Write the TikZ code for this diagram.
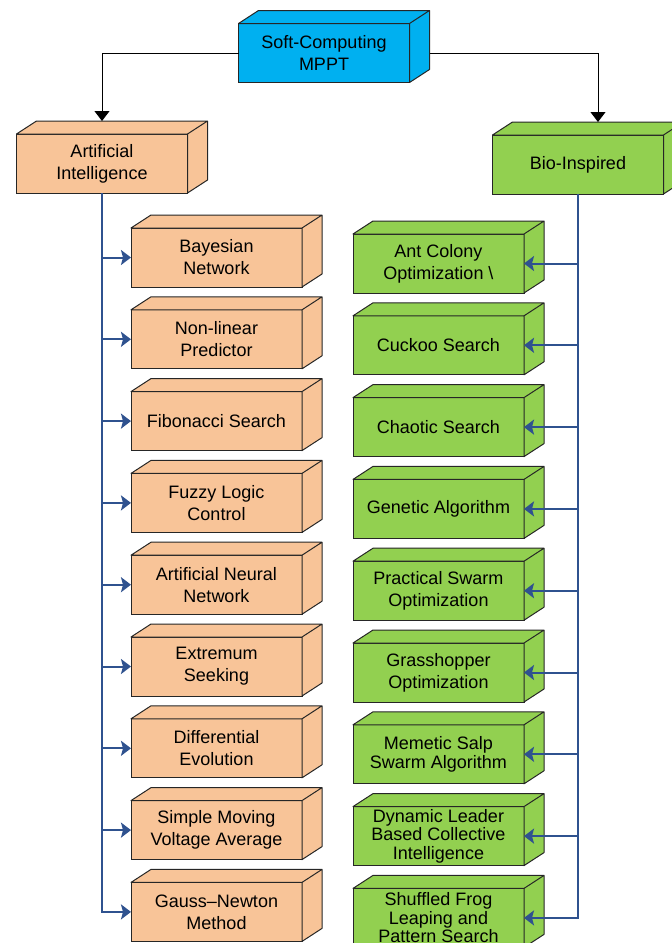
\documentclass[tikz,border=0pt]{standalone}
\usepackage{fontspec}
\setmainfont{Liberation Sans}
\usetikzlibrary{calc}
\usetikzlibrary{arrows.meta}
\definecolor{SkyBlue}{RGB}{0,176,240}
\definecolor{LightOrange}{RGB}{248,196,152}
\definecolor{LeafGreen}{RGB}{146,208,80}
\definecolor{LinkBlue}{RGB}{47,82,143}
\definecolor{Edge}{RGB}{38,38,38}
\newcommand{\BoxWidth}{85.5pt}
\newcommand{\BoxHeight}{29.5pt}
\newcommand{\DepthX}{20}
\newcommand{\DepthY}{-13}
\newcommand{\RowGap}{81.8}
% top and side faces of a box
\newcommand{\Faces}[2]{%
  \filldraw[fill=#2, draw=Edge, line width=.5pt, line join=round]
    (#1.north west) -- ++(\DepthX,\DepthY) -- ($(#1.north east)+(\DepthX,\DepthY)$) -- (#1.north east) -- cycle
    (#1.north east) -- ++(\DepthX,\DepthY) -- ($(#1.south east)+(\DepthX,\DepthY)$) -- (#1.south east) -- cycle;
  \coordinate (#1-top) at ($(#1.north)+(0,\DepthY)$);
  \coordinate (#1-back) at ($(#1.north)+(\DepthX,\DepthY)$);}

\begin{document}
\begin{tikzpicture}[x=0.5pt, y=-0.5pt]
  \tikzstyle{every node}=[font=\fontsize{9}{11}\selectfont]
  \tikzstyle{Box}=[draw=Edge, line width=.5pt, minimum width=\BoxWidth, minimum height=\BoxHeight, inner sep=0pt, outer sep=0pt, align=center]
  \tikzstyle{AIBox}=[Box, fill=LightOrange]
  \tikzstyle{BioBox}=[Box, fill=LeafGreen]
  \tikzstyle{Feed}=[draw=black, line width=.5pt, -{Triangle[length=5pt,width=7.5pt]}]
  \tikzstyle{Branch}=[draw=LinkBlue, line width=1pt, -{Stealth[length=5pt,width=7.5pt,inset=1pt]}]

  \useasboundingbox (0,0) rectangle (672,943);
  \clip (0,0) rectangle (672,943);

  % Root and the two families
  \node[Box, fill=SkyBlue] (soft) at (324,53) {Soft-Computing\\MPPT};
  \node[AIBox] (ai) at (102,163.5) {Artificial\\Intelligence};
  \Faces{ai}{LightOrange}
  \node[BioBox] (bio) at (578,164.5) {Bio-Inspired};
  \Faces{bio}{LeafGreen}

  \draw[Feed] (soft.west) -| (ai-top);
  \draw[Feed] (soft.east) -| (bio-back);
  \Faces{soft}{SkyBlue}

  % AI methods
  \foreach \Label [count=\i from 0] in {{Bayesian\\Network}, {Non-linear\\Predictor}, {Fibonacci Search}, {Fuzzy Logic\\Control}, {Artificial Neural\\Network}, {Extremum\\Seeking}, {Differential\\Evolution}, {Simple Moving\\Voltage Average}, {Gauss–Newton\\Method}}{
    \node[AIBox] (ai\i) at (216.5,{257.5+\RowGap*\i}) {\Label};
    \Faces{ai\i}{LightOrange}
  }

  % Bio-inspired methods
  \foreach \Label [count=\i from 0] in {{Ant Colony\\Optimization \textbackslash}, {Cuckoo Search}, {Chaotic Search}, {Genetic Algorithm}, {Practical Swarm\\Optimization}, {Grasshopper\\Optimization}, {Memetic Salp\\[-1.75pt]Swarm Algorithm}, {Dynamic Leader\\[-1.75pt]Based Collective\\[-1.75pt]Intelligence}, {Shuffled Frog\\[-1.75pt]Leaping and\\[-1.75pt]Pattern Search}}{
    \node[BioBox] (bio\i) at (438.5,{263.5+\RowGap*\i}) {\Label};
    \Faces{bio\i}{LeafGreen}
  }

  % Links
  \foreach \i in {0,...,8}{
    \draw[Branch] (ai.south) |- (ai\i.west);
    \draw[Branch] (bio.south) |- (bio\i.east);
  }
\end{tikzpicture}
\end{document}
